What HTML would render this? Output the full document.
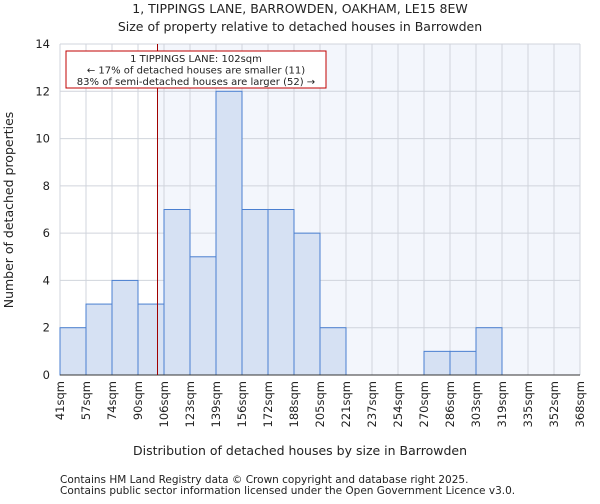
<!DOCTYPE html>
<html><head><meta charset="utf-8"><style>
body{margin:0;background:#fff;font-family:"DejaVu Sans","Liberation Sans",sans-serif;}
svg text{font-family:"DejaVu Sans","Liberation Sans",sans-serif;fill:#222;}
</style></head><body>
<svg id="c" width="600" height="500">
<text x="300" y="13" text-anchor="middle" font-size="12.5">1, TIPPINGS LANE, BARROWDEN, OAKHAM, LE15 8EW</text>
<text x="300" y="31" text-anchor="middle" font-size="12.5">Size of property relative to detached houses in Barrowden</text>
<g id="plot"></g>
<text x="300" y="455" text-anchor="middle" font-size="12.5">Distribution of detached houses by size in Barrowden</text>
<text transform="translate(13,210) rotate(-90)" text-anchor="middle" font-size="12.5">Number of detached properties</text>
<text x="60" y="483" font-size="10.5" fill="#444">Contains HM Land Registry data © Crown copyright and database right 2025.</text>
<text x="60" y="494" font-size="10.5" fill="#444">Contains public sector information licensed under the Open Government Licence v3.0.</text>
</svg>
<script>
const binLabels=["41sqm","57sqm","74sqm","90sqm","106sqm","123sqm","139sqm","156sqm","172sqm","188sqm","205sqm","221sqm","237sqm","254sqm","270sqm","286sqm","303sqm","319sqm","335sqm","352sqm","368sqm"];
const binEdges=[41,57,74,90,106,123,139,156,172,188,205,221,237,254,270,286,303,319,335,352,368];
const counts=[2,3,4,3,7,5,12,7,7,6,2,0,0,0,1,1,2,0,0,0];
const yTicks=[0,2,4,6,8,10,12,14];
const subjectSize=102;
const NS="http://www.w3.org/2000/svg";
const L=60,R=580,T=44,B=375,yMax=14;
const bw=(R-L)/counts.length;
const y=v=>B-(B-T)*v/yMax;
function xs(v){for(let i=0;i<binEdges.length-1;i++){if(v<=binEdges[i+1])return L+bw*(i+(v-binEdges[i])/(binEdges[i+1]-binEdges[i]));}return R;}
const g=document.getElementById('plot');
function mk(t,a){const e=document.createElementNS(NS,t);for(const k in a)e.setAttribute(k,a[k]);g.appendChild(e);return e;}
const sx=xs(subjectSize);
let e=mk('rect',{x:sx,y:T,width:R-sx,height:B-T,fill:'#f3f6fc'});


binLabels.forEach((l,i)=>{const x=L+i*bw;
 let ln=mk('line',{x1:x,x2:x,y1:T,y2:B,stroke:'#d0d4dc','stroke-width':1});
 
 
 let t=mk('text',{transform:`translate(${x+4},${B+6}) rotate(-90)`,'text-anchor':'end','font-size':11.5});
 t.textContent=l;
 
 
});
yTicks.forEach(v=>{
 let ln=mk('line',{x1:L,x2:R,y1:y(v),y2:y(v),stroke:'#d0d4dc','stroke-width':1});
 
 
 let t=mk('text',{x:L-10,y:y(v)+4,'text-anchor':'end','font-size':11.5});
 t.textContent=v;
 
 
});
counts.forEach((c,i)=>{if(!c)return;
 let r=mk('rect',{x:L+i*bw,y:y(c),width:bw,height:B-y(c),fill:'#d6e1f3',stroke:'#4a7fd0','stroke-width':1});
 
 
});
e=mk('line',{x1:L,x2:R,y1:B,y2:B,stroke:'#333'});


e=mk('line',{x1:sx,x2:sx,y1:T,y2:B,stroke:'#a00000','stroke-width':1});


e=mk('rect',{x:66,y:51,width:260,height:37,fill:'#fff',stroke:'#c00000','stroke-width':1});


["1 TIPPINGS LANE: 102sqm","← 17% of detached houses are smaller (11)","83% of semi-detached houses are larger (52) →"].forEach((s,i)=>{
 let t=mk('text',{x:196,y:62+i*11.5,'text-anchor':'middle','font-size':10});
 t.textContent=s;
 
 
});
</script>
</body></html>
